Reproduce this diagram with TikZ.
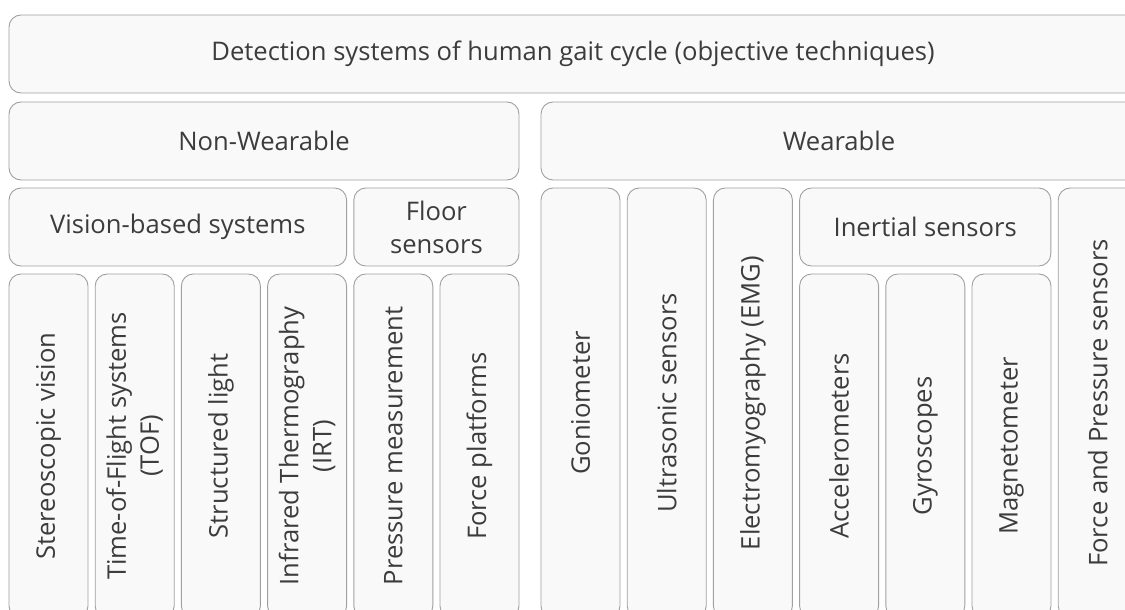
\documentclass[tikz,border=0pt]{standalone}
\usepackage{fontspec}
\setmainfont{Open Sans}
\definecolor{boxfill}{HTML}{F9F9F9}
\definecolor{boxline}{HTML}{A0A0A0}
\definecolor{txt}{HTML}{3C3C3C}
\tikzset{
  boxstyle/.style={draw=boxline, fill=boxfill, line width=0.9pt, rounded corners=12pt, inner sep=0pt, outer sep=0pt},
  lbl/.style={text=txt, font=\fontsize{25.6}{33}\selectfont, align=center, inner sep=0pt},
  vlbl/.style={lbl, rotate=90}
}
% #1 name, #2 x1, #3 y1, #4 x2, #5 y2, #6 text (horizontal)
\newcommand{\hbx}[6]{%
  \node[boxstyle, minimum width={(#4-#2)*1pt}, minimum height={(#5-#3)*1pt}] (#1) at ({(#2+#4)/2},{(#3+#5)/2}) {};
  \node[lbl] (#1-t) at (#1.center) {#6};}
\newcommand{\vbx}[6]{%
  \node[boxstyle, minimum width={(#4-#2)*1pt}, minimum height={(#5-#3)*1pt}] (#1) at ({(#2+#4)/2},{(#3+#5)/2}) {};
  \node[vlbl] (#1-t) at (#1.center) {#6};}
\begin{document}
\begin{tikzpicture}[x=1pt,y=-1pt]
\useasboundingbox (0,0) rectangle (1125,610);
\clip (0,0) rectangle (1125,610);
% rows
\hbx{top}{9}{15}{1137}{93}{Detection systems of human gait cycle (objective techniques)}
\hbx{nonw}{9}{102}{519}{180}{Non-Wearable}
\hbx{wear}{541}{102}{1137}{180}{Wearable}
\hbx{vision}{9}{188}{346.6}{266}{Vision-based systems}
\hbx{floor}{353.8}{188}{519}{266}{Floor\\sensors}
\hbx{inert}{799.6}{188}{1050.8}{266}{Inertial sensors}
% non-wearable leaves
\vbx{stereo}{9}{274}{88}{618}{Stereoscopic vision}
\vbx{tof}{95.2}{274}{174.2}{618}{Time-of-Flight systems\\(TOF)}
\vbx{struct}{181.4}{274}{260.4}{618}{Structured light}
\vbx{irt}{267.6}{274}{346.6}{618}{Infrared Thermography\\(IRT)}
\vbx{press}{353.8}{274}{432.8}{618}{Pressure measurement}
\vbx{forcep}{440}{274}{519}{618}{Force platforms}
% wearable leaves
\vbx{gonio}{541}{188}{620}{618}{Goniometer}
\vbx{ultra}{627.2}{188}{706.2}{618}{Ultrasonic sensors}
\vbx{emg}{713.4}{188}{792.4}{618}{Electromyography (EMG)}
\vbx{accel}{799.6}{274}{878.6}{618}{Accelerometers}
\vbx{gyro}{885.8}{274}{964.8}{618}{Gyroscopes}
\vbx{magn}{972}{274}{1051}{618}{Magnetometer}
\vbx{fps}{1058.2}{188}{1137.2}{618}{Force and Pressure sensors}
\end{tikzpicture}
\end{document}
